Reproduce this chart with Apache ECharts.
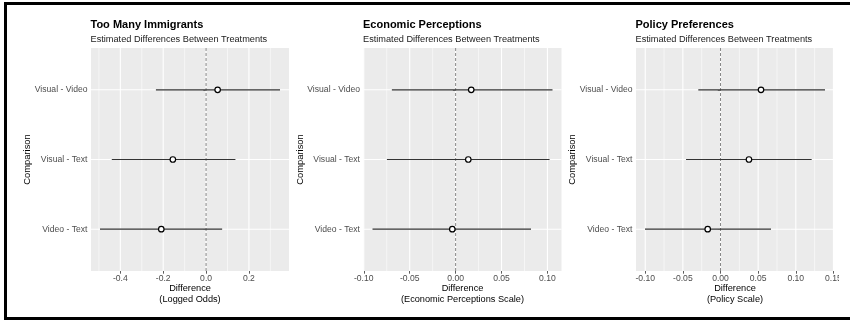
<!DOCTYPE html>
<html>
<head>
<meta charset="utf-8">
<script src="https://cdn.jsdelivr.net/npm/echarts@6/dist/echarts.min.js"></script>
<style>
  html, body { margin: 0; padding: 0; background: #fff; }
  #chart { width: 850px; height: 322px; }
</style>
</head>
<body>
<div id="chart"></div>
<script>
// Pairwise treatment comparisons, listed from the bottom row upward
const comparisons = ['Video - Text', 'Visual - Text', 'Visual - Video'];

// Too Many Immigrants (logged odds)
const immigrantsEst  = [-0.209, -0.155, 0.054];
const immigrantsLow  = [-0.495, -0.440, -0.234];
const immigrantsHigh = [0.075, 0.137, 0.345];

// Economic Perceptions scale
const economicEst  = [-0.0036, 0.0138, 0.0170];
const economicLow  = [-0.0905, -0.0748, -0.0694];
const economicHigh = [0.0821, 0.1023, 0.1055];

// Policy scale
const policyEst  = [-0.0170, 0.0378, 0.0538];
const policyLow  = [-0.1003, -0.0458, -0.0295];
const policyHigh = [0.0671, 0.1211, 0.1388];

// Tick labels on each difference axis
const immigrantsTicks = ['-0.4', '-0.2', '0.0', '0.2'];
const economicTicks   = ['-0.10', '-0.05', '0.00', '0.05', '0.10'];
const policyTicks     = ['-0.10', '-0.05', '0.00', '0.05', '0.10', '0.15'];

const panelTitles = ['Too Many Immigrants', 'Economic Perceptions', 'Policy Preferences'];
const panelSubtitle = 'Estimated Differences Between Treatments';
const xTitles = [
  'Difference\n(Logged Odds)',
  'Difference\n(Economic Perceptions Scale)',
  'Difference\n(Policy Scale)'
];
const yTitle = 'Comparison';

const FONT = '"Liberation Sans", Arial, Helvetica, sans-serif';
const PANEL_BG = '#EBEBEB';
const TEXT_GREY = '#4D4D4D';

const panels = [
  { est: immigrantsEst, low: immigrantsLow, high: immigrantsHigh, ticks: immigrantsTicks, left: 91 },
  { est: economicEst,   low: economicLow,   high: economicHigh,   ticks: economicTicks,   left: 363.5 },
  { est: policyEst,     low: policyLow,     high: policyHigh,     ticks: policyTicks,     left: 636 }
];

const PLOT_TOP = 48, PLOT_H = 223, PLOT_W = 198;
const Y_MIN = 0.4, Y_MAX = comparisons.length + 0.6;

const grids = [], xAxes = [], yAxes = [], titles = [], series = [];

panels.forEach((p, i) => {
  // data range padded by 5% on each side
  const lo = Math.min(...p.low), hi = Math.max(...p.high);
  const pad = (hi - lo) * 0.05;
  const xMin = lo - pad, xMax = hi + pad;

  const majors = p.ticks.map(Number);
  const step = majors[1] - majors[0];
  const minors = [];
  for (let k = -1; k < majors.length; k++) {
    const m = majors[0] + step * (k + 0.5);
    if (m > xMin && m < xMax) minors.push(m);
  }

  grids.push({
    left: p.left, top: PLOT_TOP, width: PLOT_W, height: PLOT_H,
    show: true, backgroundColor: PANEL_BG, borderWidth: 0,
    containLabel: false, outerBoundsMode: 'none'
  });

  xAxes.push({
    gridIndex: i, type: 'value', min: xMin, max: xMax,
    name: xTitles[i], nameLocation: 'middle', nameGap: 11.5, nameMoveOverlap: false,
    nameTextStyle: { fontFamily: FONT, fontSize: 9.2, color: '#000', lineHeight: 11.3 },
    axisLine: { show: false },
    axisTick: { show: true, customValues: majors, length: 2.7, lineStyle: { color: '#333', width: 0.8 } },
    axisLabel: {
      customValues: majors, margin: 2.5, fontFamily: FONT, fontSize: 8.6, color: TEXT_GREY,
      lineHeight: 10, hideOverlap: false, showMinLabel: true, showMaxLabel: true,
      formatter: v => p.ticks.find(t => Math.abs(Number(t) - v) < 1e-9) ?? ''
    },
    splitLine: { show: false }
  });

  yAxes.push({
    gridIndex: i, type: 'value', min: Y_MIN, max: Y_MAX,
    name: yTitle, nameLocation: 'middle', nameRotate: 90, nameGap: 58, nameMoveOverlap: false,
    nameTextStyle: { fontFamily: FONT, fontSize: 9.4, color: '#000', lineHeight: 11 },
    axisLine: { show: false },
    axisTick: { show: true, customValues: [1, 2, 3], length: 2.7, lineStyle: { color: '#333', width: 0.8 } },
    axisLabel: {
      customValues: [1, 2, 3], margin: 3.5, fontFamily: FONT, fontSize: 8.6, color: TEXT_GREY,
      hideOverlap: false,
      formatter: v => comparisons[Math.round(v) - 1] ?? ''
    },
    splitLine: { show: false }
  });

  titles.push({
    left: p.left - 0.5, top: 19, padding: 0, itemGap: 3.3,
    text: panelTitles[i], subtext: panelSubtitle,
    textStyle: { fontFamily: FONT, fontSize: 11, fontWeight: 'bold', color: '#000', lineHeight: 12 },
    subtextStyle: { fontFamily: FONT, fontSize: 9.2, color: '#1A1A1A', lineHeight: 10 }
  });

  // white vertical grid lines (major and minor)
  const vLines = majors.map(v => [v, 2, 1]).concat(minors.map(v => [v, 2, 0]));
  series.push({
    type: 'custom', xAxisIndex: i, yAxisIndex: i, silent: true, z: 1,
    data: vLines,
    renderItem: (params, api) => {
      const x = api.value(0);
      const a = api.coord([x, Y_MIN]), b = api.coord([x, Y_MAX]);
      return {
        type: 'line',
        shape: { x1: a[0], y1: a[1], x2: b[0], y2: b[1] },
        style: { stroke: '#FFFFFF', lineWidth: api.value(2) ? 1.1 : 0.55 }
      };
    }
  });

  // white horizontal grid lines at each comparison
  series.push({
    type: 'custom', xAxisIndex: i, yAxisIndex: i, silent: true, z: 1,
    data: comparisons.map((c, k) => [0, k + 1]),
    renderItem: (params, api) => {
      const y = api.value(1);
      const a = api.coord([xMin, y]), b = api.coord([xMax, y]);
      return {
        type: 'line',
        shape: { x1: a[0], y1: a[1], x2: b[0], y2: b[1] },
        style: { stroke: '#FFFFFF', lineWidth: 1.1 }
      };
    }
  });

  // dashed reference line at zero difference
  series.push({
    type: 'custom', xAxisIndex: i, yAxisIndex: i, silent: true, z: 2,
    data: [[0, 2]],
    renderItem: (params, api) => {
      const a = api.coord([api.value(0), Y_MIN]), b = api.coord([api.value(0), Y_MAX]);
      return {
        type: 'line',
        shape: { x1: a[0], y1: a[1], x2: b[0], y2: b[1] },
        style: { stroke: '#555555', lineWidth: 0.7, lineDash: [3, 2] }
      };
    }
  });

  // confidence intervals
  series.push({
    type: 'custom', xAxisIndex: i, yAxisIndex: i, silent: true, z: 3,
    data: comparisons.map((c, k) => [p.low[k], k + 1, p.high[k]]),
    renderItem: (params, api) => {
      const y = api.value(1);
      const a = api.coord([api.value(0), y]), b = api.coord([api.value(2), y]);
      return {
        type: 'line',
        shape: { x1: a[0], y1: a[1], x2: b[0], y2: b[1] },
        style: { stroke: '#333333', lineWidth: 1.2 }
      };
    }
  });

  // point estimates
  series.push({
    type: 'scatter', xAxisIndex: i, yAxisIndex: i, silent: true, z: 4,
    symbol: 'circle', symbolSize: 5.5,
    itemStyle: { color: '#FFFFFF', borderColor: '#000000', borderWidth: 1.2, opacity: 1 },
    data: comparisons.map((c, k) => [p.est[k], k + 1])
  });
});

const chart = echarts.init(document.getElementById('chart'), null, { renderer: 'canvas' });
chart.setOption({
  animation: false,
  backgroundColor: '#FFFFFF',
  textStyle: { fontFamily: FONT },
  title: titles,
  grid: grids,
  xAxis: xAxes,
  yAxis: yAxes,
  series: series,
  graphic: [
    {
      type: 'rect', z: 100, silent: true,
      shape: { x: 839, y: 5, width: 11, height: 312 },
      style: { fill: '#FFFFFF' }
    },
    {
      type: 'polyline', z: 101, silent: true,
      shape: { points: [[850, 3.5], [5.5, 3.5], [5.5, 318.5], [850, 318.5]] },
      style: { stroke: '#000000', lineWidth: 3, fill: null }
    }
  ]
});
</script>
</body>
</html>
